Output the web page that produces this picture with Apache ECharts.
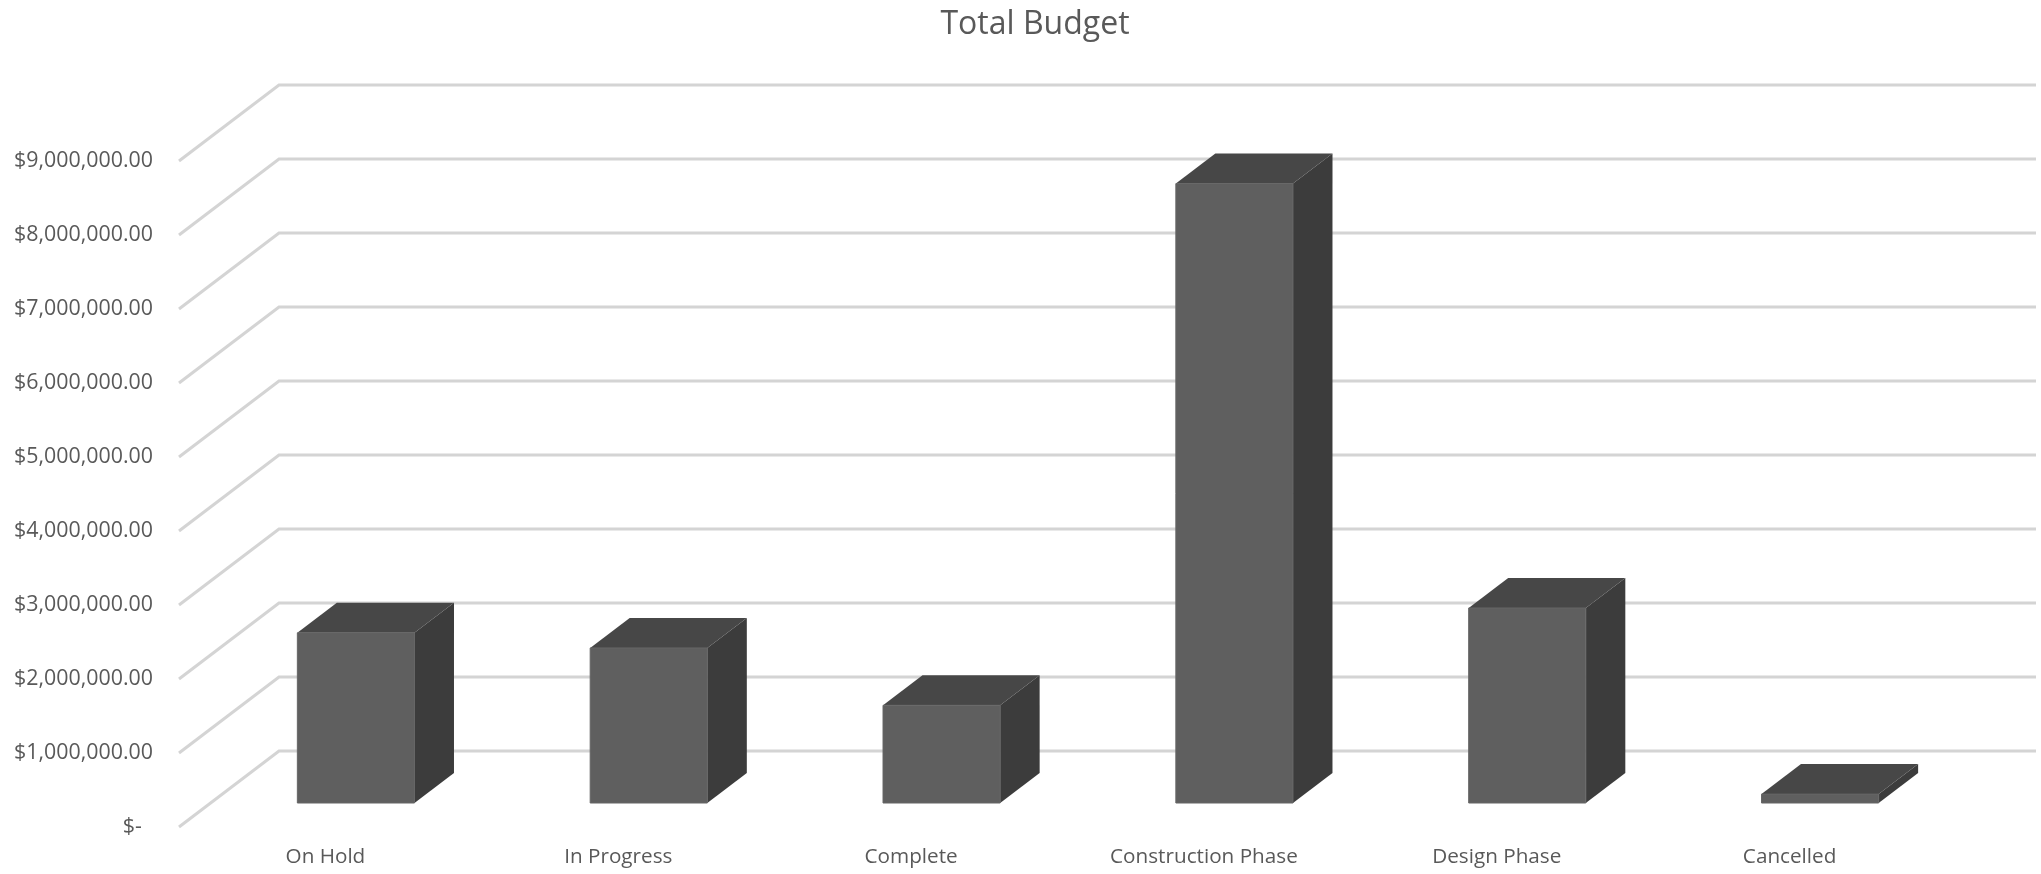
<!DOCTYPE html>
<html>
<head>
<meta charset="utf-8">
<title>Total Budget</title>
<script src="https://cdn.jsdelivr.net/npm/echarts@6/dist/echarts.min.js"></script>
<style>
  html, body { margin: 0; padding: 0; background: #fff; }
  #chart { width: 2041px; height: 874px; }
</style>
</head>
<body>
<div id="chart"></div>
<script>
// Budget per project status
const categories = ['On Hold', 'In Progress', 'Complete', 'Construction Phase', 'Design Phase', 'Cancelled'];
const totalBudget = [2300000, 2095000, 1320000, 8370000, 2635000, 120000];
const tickValues = [0, 1000000, 2000000, 3000000, 4000000, 5000000, 6000000, 7000000, 8000000, 9000000];
const tickLabels = ['$-  ', '$1,000,000.00', '$2,000,000.00', '$3,000,000.00', '$4,000,000.00',
  '$5,000,000.00', '$6,000,000.00', '$7,000,000.00', '$8,000,000.00', '$9,000,000.00'];

// Oblique projection of the 3D box: screen offset of the full floor depth
const DEPTH_X = 100;
const DEPTH_Y = -76;
// Screen offset of a column's front face from the floor's front edge, and of its back face from the front face
const BAR_OFFSET_X = 30.5;
const BAR_OFFSET_Y = -24;
const BAR_DEPTH_X = 39.5;
const BAR_DEPTH_Y = -30;
const BAR_WIDTH_RATIO = 0.4;

const FONT = '"Open Sans", "Noto Sans", sans-serif';
const TEXT_COLOR = '#595959';

function renderGridLine(params, api) {
  const grid = params.coordSys;
  const y = api.coord([0, api.value(0)])[1];
  return {
    type: 'polyline',
    shape: {
      points: [
        [grid.x, y],
        [grid.x + DEPTH_X, y + DEPTH_Y],
        [grid.x + grid.width + DEPTH_X, y + DEPTH_Y]
      ]
    },
    style: { fill: 'none', stroke: '#d4d4d4', lineWidth: 3 }
  };
}

function renderColumn(params, api) {
  const top = api.coord([api.value(0), api.value(1)]);
  const base = api.coord([api.value(0), 0]);
  const w = api.size([1, 0])[0] * BAR_WIDTH_RATIO;
  const dx = BAR_DEPTH_X;
  const dy = BAR_DEPTH_Y;
  const l = top[0] - w / 2 + BAR_OFFSET_X;
  const r = l + w;
  const t = top[1] + BAR_OFFSET_Y;
  const b = base[1] + BAR_OFFSET_Y;
  return {
    type: 'group',
    children: [
      {
        type: 'polygon',
        shape: { points: [[r, t], [r + dx, t + dy], [r + dx, b + dy], [r, b]] },
        style: { fill: '#3c3c3c' }
      },
      {
        type: 'polygon',
        shape: { points: [[l, t], [l + dx, t + dy], [r + dx, t + dy], [r, t]] },
        style: { fill: '#474747' }
      },
      {
        type: 'rect',
        shape: { x: l, y: t, width: w, height: b - t },
        style: { fill: '#5f5f5f', stroke: '#666666', lineWidth: 1 }
      }
    ]
  };
}

const chart = echarts.init(document.getElementById('chart'), null, { renderer: 'canvas' });
chart.setOption({
  animation: false,
  backgroundColor: '#ffffff',
  title: {
    text: 'Total Budget',
    left: 1030,
    top: 4,
    textAlign: 'center',
    textStyle: { color: TEXT_COLOR, fontFamily: FONT, fontSize: 32, fontWeight: 'normal' }
  },
  grid: { left: 179, right: 105, top: 161, bottom: 47, containLabel: false },
  xAxis: {
    type: 'category',
    data: categories,
    axisLine: { show: false },
    axisTick: { show: false },
    splitLine: { show: false },
    axisLabel: { color: TEXT_COLOR, fontFamily: FONT, fontSize: 20.7, margin: 20, interval: 0 }
  },
  yAxis: {
    type: 'value',
    min: 0,
    max: 9000000,
    interval: 1000000,
    axisLine: { show: false },
    axisTick: { show: false },
    splitLine: { show: false },
    axisLabel: {
      color: TEXT_COLOR,
      fontFamily: FONT,
      fontSize: 21.4,
      margin: 26,
      padding: [6, 0, 0, 0],
      formatter: (value) => tickLabels[tickValues.indexOf(value)]
    }
  },
  series: [
    {
      type: 'custom',
      name: 'Gridlines',
      silent: true,
      z: 1,
      clip: false,
      renderItem: renderGridLine,
      encode: { y: 0 },
      data: tickValues.map((v) => [v])
    },
    {
      type: 'custom',
      name: 'Total Budget',
      z: 2,
      clip: false,
      renderItem: renderColumn,
      encode: { x: 0, y: 1 },
      data: totalBudget.map((v, i) => [i, v])
    }
  ]
});
</script>
</body>
</html>
